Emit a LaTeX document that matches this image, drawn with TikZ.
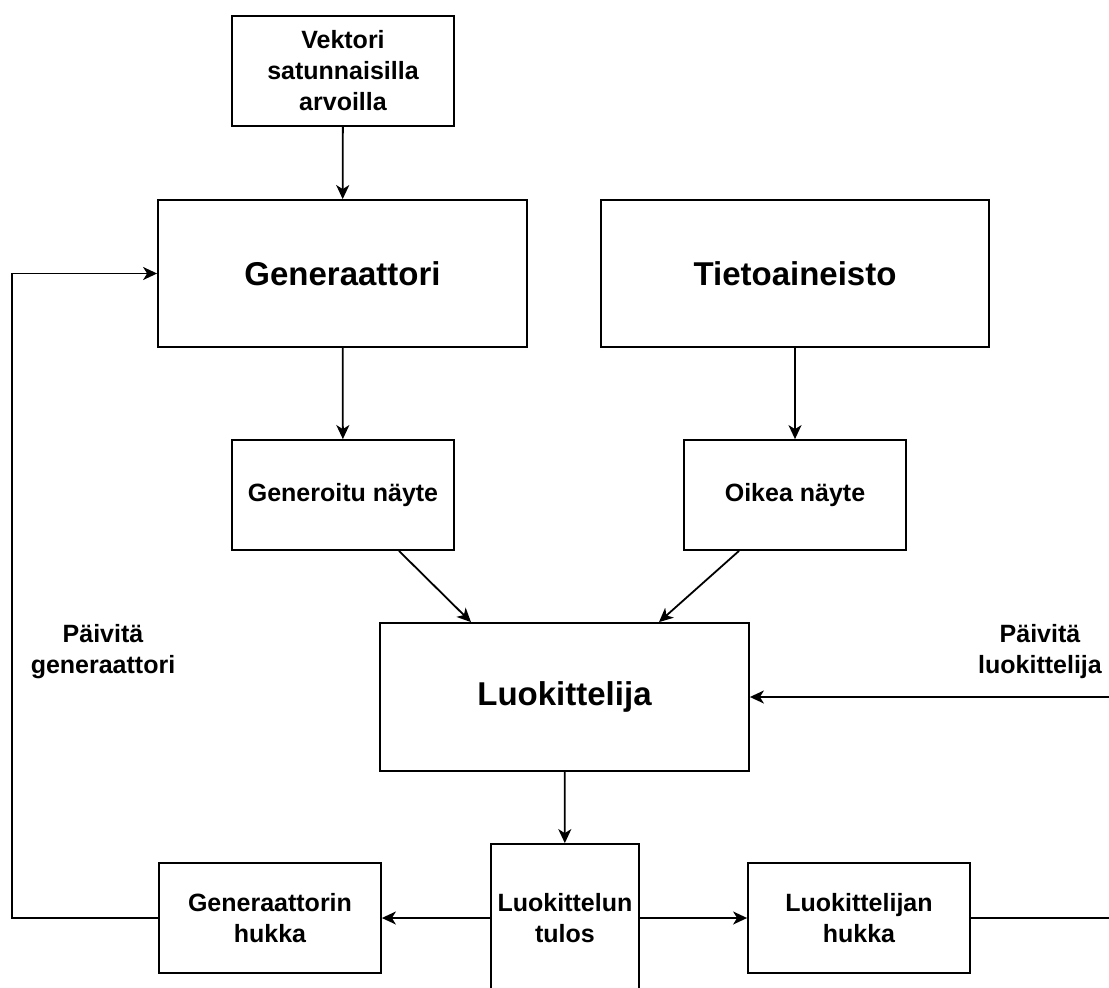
\documentclass[tikz,border=0pt]{standalone}
\usepackage{fontspec}
\setmainfont{Liberation Sans}
\usetikzlibrary{arrows.meta,calc}
\tikzset{
  box/.style={draw=black, line width=1.8pt, fill=white, align=center, inner sep=0pt,
    font=\fontsize{25}{31}\selectfont\bfseries},
  bigbox/.style={box, font=\fontsize{33}{40}\selectfont\bfseries},
  conn/.style={line width=1.8pt, draw=black, -{Stealth[length=14pt,width=13pt,inset=4pt]}},
  plain/.style={line width=1.8pt, draw=black},
  lbl/.style={align=center, inner sep=0pt, font=\fontsize{25}{31}\selectfont\bfseries}
}
\begin{document}
\begin{tikzpicture}[x=1pt,y=-1pt]
\useasboundingbox (0,0) rectangle (1109,988);
\fill[white] (0,0) rectangle (1109,988);
\clip (0,0) rectangle (1109,988);
\node[box, minimum width=222pt, minimum height=110pt] (vek) at (343,71) {Vektori\\satunnaisilla\\arvoilla};
\node[bigbox, minimum width=369pt, minimum height=147pt] (gen) at (342.5,273.5) {Generaattori};
\node[bigbox, minimum width=388pt, minimum height=147pt] (tiet) at (795,273.5) {Tietoaineisto};
\node[box, minimum width=222pt, minimum height=110pt] (gnay) at (343,495) {Generoitu näyte};
\node[box, minimum width=222pt, minimum height=110pt] (onay) at (795,495) {Oikea näyte};
\node[bigbox, minimum width=369pt, minimum height=148pt] (luok) at (564.5,697) {Luokittelija};
\node[box, minimum width=148pt, minimum height=148pt] (tulos) at (565,918) {Luokittelun\\tulos};
\node[box, minimum width=222pt, minimum height=110pt] (ghuk) at (270,918) {Generaattorin\\hukka};
\node[box, minimum width=222pt, minimum height=110pt] (lhuk) at (859,918) {Luokittelijan\\hukka};
\node[lbl] (lg) at (103,652) {Päivitä\\generaattori};
\node[lbl] (ll) at (1040,652) {Päivitä\\luokittelija};
\coordinate (cl) at (12,0);
\coordinate (cr) at (1118,0);

\draw[conn] (vek) -- (gen);
\draw[conn] (gen) -- (gnay);
\draw[conn] (tiet) -- (onay);
\draw[conn] ([xshift=56pt]gnay.south) -- ([xshift=-93.5pt]luok.north);
\draw[conn] ([xshift=-56pt]onay.south) -- ([xshift=94.5pt]luok.north);
\draw[conn] (luok) -- (tulos);
\draw[conn] (tulos) -- (ghuk);
\draw[conn] (tulos) -- (lhuk);
\draw[conn] (ghuk.west) -- (ghuk.west -| cl) -- (gen.west -| cl) -- (gen.west);
\draw[conn] (lhuk.east) -- (lhuk.east -| cr) -- (luok.east -| cr) -- (luok.east);
\end{tikzpicture}
\end{document}
